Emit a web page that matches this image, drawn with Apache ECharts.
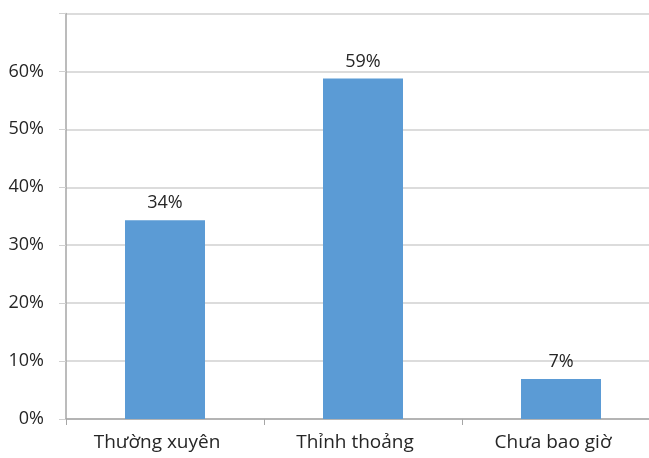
<!DOCTYPE html>
<html>
<head>
<meta charset="utf-8">
<script src="https://cdn.jsdelivr.net/npm/echarts@6/dist/echarts.min.js"></script>
<style>
  html, body { margin: 0; padding: 0; background: #fff; overflow: hidden; }
  /* 比窗口宽一点，右边被裁掉，和原图一样 */
  #chart { width: 660px; height: 458px; }
</style>
</head>
<body>
<div id="chart"></div>
<script>
// 数据
const categories = ['Thường xuyên', 'Thỉnh thoảng', 'Chưa bao giờ']
const values = [34.3, 58.8, 6.9]
const yTicks = [0, 10, 20, 30, 40, 50, 60, 70]

const chart = echarts.init(document.getElementById('chart'))

const option = {
  animation: false,
  grid: { left: 66, right: 0, top: 13.5, bottom: 39 },
  xAxis: {
    type: 'category',
    data: categories,
    axisLine: { lineStyle: { color: '#A6A6A6', width: 1.5 } },
    axisTick: { show: true, length: 6, lineStyle: { color: '#A6A6A6' } },
    axisLabel: {
      color: '#262626',
      fontFamily: 'Open Sans',
      fontSize: 19,
      margin: 14,
      // 原图标签略偏左
      padding: [0, 16, 0, 0],
    },
  },
  yAxis: {
    type: 'value',
    min: yTicks[0],
    max: yTicks[yTicks.length - 1],
    interval: 10,
    axisLine: { show: true, lineStyle: { color: '#A6A6A6', width: 1.5 } },
    axisTick: { show: true, length: 7, lineStyle: { color: '#D0D0D0' } },
    splitLine: { lineStyle: { color: '#D0D0D0', width: 1.5 } },
    axisLabel: {
      color: '#262626',
      fontFamily: 'Open Sans',
      fontSize: 18,
      margin: 22,
      formatter: (v) => (v === 70 ? '' : v + '%'),
    },
  },
  series: [
    {
      type: 'bar',
      data: values,
      barWidth: 80,
      itemStyle: { color: '#5B9BD5' },
      label: {
        show: true,
        position: 'top',
        distance: 8,
        color: '#262626',
        fontFamily: 'Open Sans',
        fontSize: 18,
        formatter: (p) => Math.round(p.value) + '%',
      },
    },
  ],
}

chart.setOption(option)
</script>
</body>
</html>
